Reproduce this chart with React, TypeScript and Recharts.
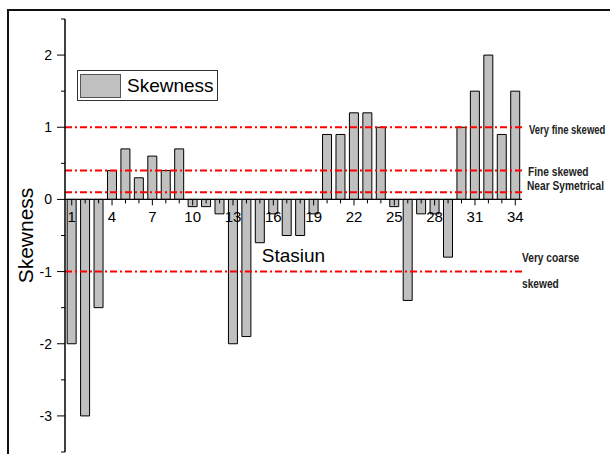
import React from 'react';
import { BarChart, Bar, XAxis, YAxis, ReferenceLine, Legend } from 'recharts';

const stations = [1, 2, 3, 4, 5, 6, 7, 8, 9, 10, 11, 12, 13, 14, 15, 16, 17, 18, 19, 20, 21, 22, 23, 24, 25, 26, 27, 28, 29, 30, 31, 32, 33, 34];
const skewness = [-2, -3, -1.5, 0.4, 0.7, 0.3, 0.6, 0.4, 0.7, -0.1, -0.1, -0.2, -2, -1.9, -0.6, -0.2, -0.5, -0.5, -0.2, 0.9, 0.9, 1.2, 1.2, 1.0, -0.1, -1.4, -0.2, -0.2, -0.8, 1.0, 1.5, 2.0, 0.9, 1.5];
const yTicks = [-3.5, -3, -2.5, -2, -1.5, -1, -0.5, 0, 0.5, 1, 1.5, 2, 2.5];
const xLabelled = [1, 4, 7, 10, 13, 16, 19, 22, 25, 28, 31, 34];

// class limits and the text written beside each line
const limits = [1, 0.4, 0.1, -1];
const limitNames = [['Very fine skewed'], ['Fine skewed'], ['Near Symetrical'], ['Very coarse', 'skewed']];
const limitOffsets = [[7, 7], [6, 5], [5, -2], [0, -10]];
const limitSquash = [0.79, 0.85, 0.85, 0.85];

const data = stations.map((s, i) => ({ station: s, skewness: skewness[i] }));

const W = 610;
const H = 454;
const margin = { top: 19, right: 88, bottom: 0, left: 0 };
const xAxisH = 2;
const yDomain: [number, number] = [-3.5, 2.5];
const plotH = H - margin.top - margin.bottom - xAxisH;
const zeroY = margin.top + (yDomain[1] / (yDomain[1] - yDomain[0])) * plotH;

const font = '"Liberation Sans", Arial, sans-serif';

function XTick({ x, payload }: any) {
  const v = Number(payload.value);
  const lab = xLabelled.includes(v);
  return (
    <g>
      <line x1={x} x2={x} y1={zeroY} y2={zeroY + (lab ? 6 : 4)} stroke="#000" />
      {lab && (
        <text x={x} y={zeroY + 23} textAnchor="middle" fontSize={15} fontFamily={font} fill="#000">
          {v}
        </text>
      )}
    </g>
  );
}

function YTick({ x, y, payload }: any) {
  const major = Number.isInteger(payload.value);
  return (
    <g>
      <line x1={x - (major ? 8 : 4)} x2={x} y1={y} y2={y} stroke="#000" />
      {major && (
        <text x={x - 13} y={y} dy="0.36em" textAnchor="end" fontSize={14} fontFamily={font} fill="#000">
          {payload.value}
        </text>
      )}
    </g>
  );
}

function LegendBox() {
  return (
    <div
      style={{
        display: 'flex',
        alignItems: 'center',
        width: 141,
        height: 31,
        boxSizing: 'border-box',
        border: '1px solid #333',
        background: '#fff',
        padding: '0 2px',
      }}
    >
      <div style={{ width: 41, height: 24, boxSizing: 'border-box', background: '#c0c0c0', border: '1px solid #555' }} />
      <span style={{ fontFamily: font, fontSize: 19, marginLeft: 6, color: '#000' }}>Skewness</span>
    </div>
  );
}

function limitLabel(i: number) {
  return (props: any) => {
    const vb = props.viewBox;
    const x = vb.x + vb.width + limitOffsets[i][0];
    const y = vb.y + limitOffsets[i][1];
    return (
      <g transform={`translate(${x}, ${y}) scale(${limitSquash[i]}, 1)`}>
        {limitNames[i].map((t, k) => (
          <text key={k} x={0} y={k * 26} fontSize={12} fontFamily={font} fontWeight="bold" fill="#222">
            {t}
          </text>
        ))}
      </g>
    );
  };
}

function XTitle(props: any) {
  const vb = props.viewBox;
  return (
    <text x={vb.x + vb.width / 2} y={vb.y + 63} textAnchor="middle" fontSize={19} fontFamily={font} fill="#000">
      Stasiun
    </text>
  );
}

function YTitle(props: any) {
  const vb = props.viewBox;
  const cx = vb.x + 25;
  const cy = vb.y + vb.height / 2;
  return (
    <text
      x={cx}
      y={cy}
      transform={`rotate(-90, ${cx}, ${cy})`}
      textAnchor="middle"
      dominantBaseline="central"
      fontSize={21}
      fontFamily={font}
      fill="#000"
    >
      Skewness
    </text>
  );
}

export default function App() {
  return (
    <div style={{ position: 'absolute', left: 0, top: 0, width: W, height: H, overflow: 'hidden', background: '#fff' }}>
      <div
        style={{
          position: 'absolute',
          left: 7,
          top: 9,
          width: 700,
          height: 600,
          borderTop: '2px solid #111',
          borderLeft: '2px solid #111',
        }}
      />
      <div style={{ position: 'absolute', left: 0, top: 0 }}>
        <BarChart width={W} height={H} data={data} margin={margin} barCategoryGap="16%">
          <XAxis
            dataKey="station"
            height={xAxisH}
            interval={0}
            axisLine={false}
            tickLine={false}
            tick={<XTick />}
          />
          <YAxis
            type="number"
            width={65}
            domain={yDomain}
            ticks={yTicks}
            interval={0}
            tickSize={0}
            tickMargin={0}
            tickLine={false}
            axisLine={{ stroke: '#000', strokeWidth: 1.5 }}
            tick={<YTick />}
            label={<YTitle />}
          />
          <Legend
            layout="horizontal"
            verticalAlign="middle"
            align="center"
            content={<LegendBox />}
            wrapperStyle={{ position: 'absolute', left: 77, top: 70, width: 'auto' }}
          />
          <Bar dataKey="skewness" fill="#c0c0c0" stroke="#000" strokeWidth={1} isAnimationActive={false} />
          <ReferenceLine y={0} stroke="#000" strokeWidth={1.3} label={<XTitle />} />
          {limits.map((v, i) => (
            <ReferenceLine
              key={v}
              y={v}
              stroke="#ff0000"
              strokeWidth={2}
              strokeDasharray="7 3 2 3"
              label={limitLabel(i)}
            />
          ))}
        </BarChart>
      </div>
    </div>
  );
}
